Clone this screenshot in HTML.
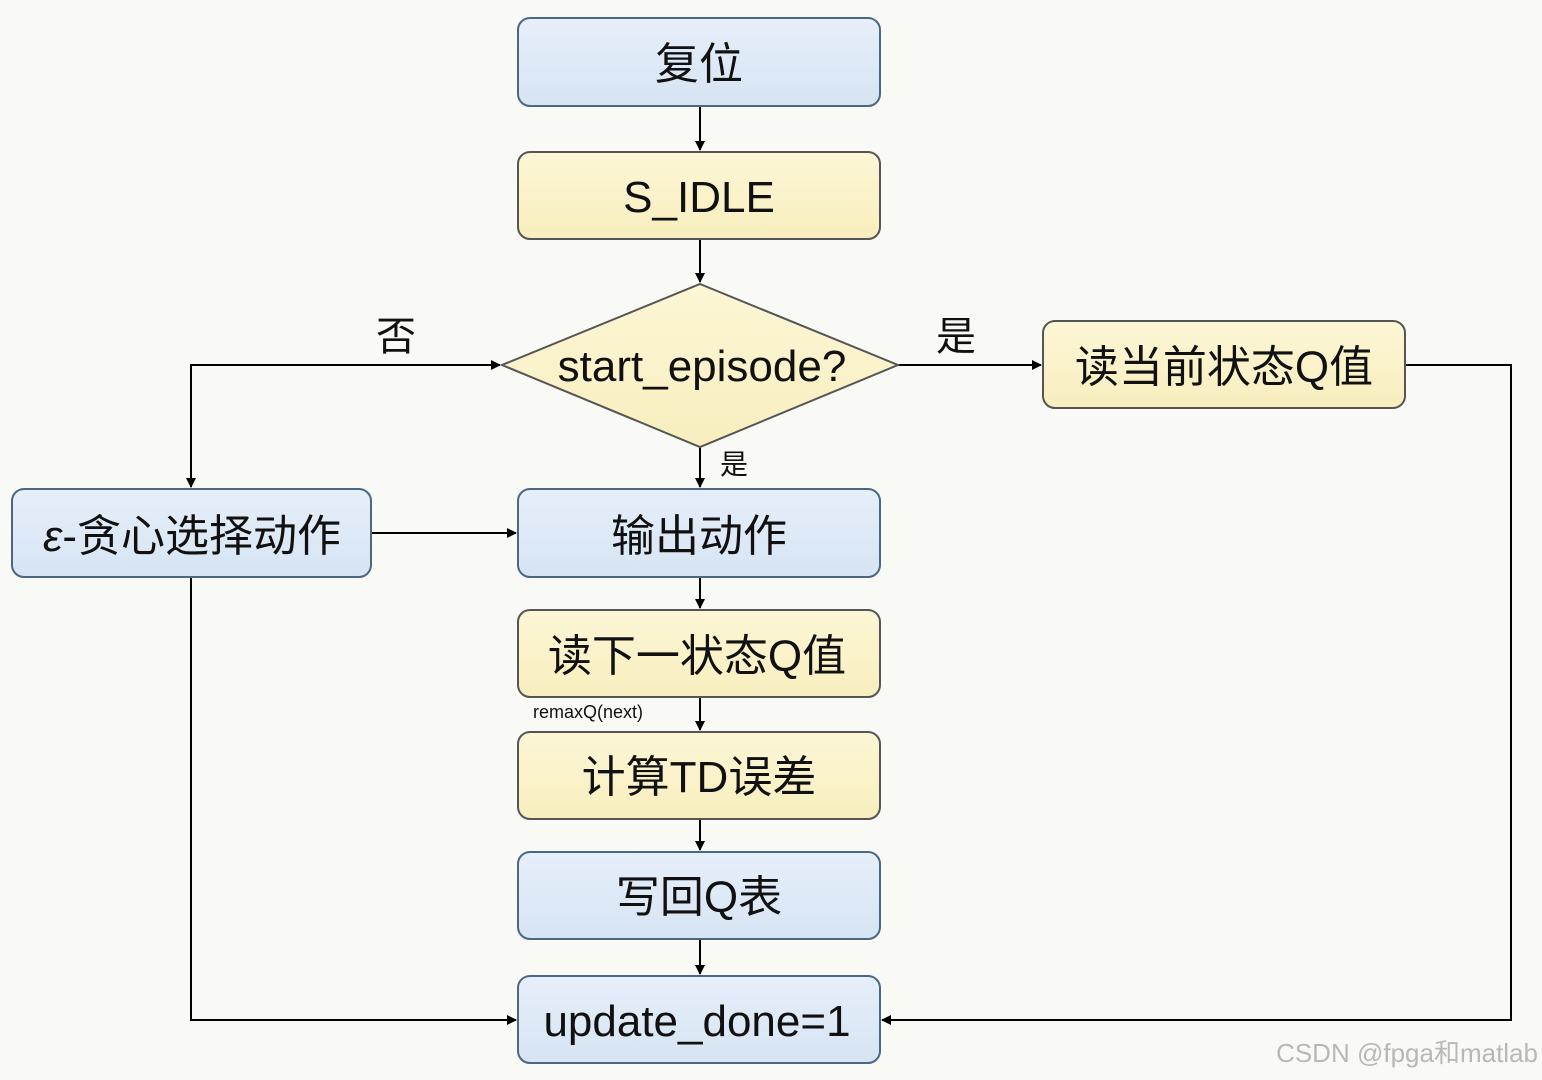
<!DOCTYPE html>
<html><head><meta charset="utf-8"><style>
html,body{margin:0;padding:0;background:#f9f9f6;}
svg{display:block}
text{font-family:"Liberation Sans","Noto Sans CJK SC",sans-serif;fill:#111;}
</style></head><body>
<svg width="1542" height="1080" viewBox="0 0 1542 1080" xmlns="http://www.w3.org/2000/svg">
<defs>
<marker id="a" markerWidth="10" markerHeight="10" refX="9" refY="5" orient="auto" markerUnits="userSpaceOnUse">
<path d="M0,0 L0,0 L10,5 L0,10 Z" fill="#000" transform="scale(1)"/></marker>
<linearGradient id="b" x1="0" y1="0" x2="0" y2="1"><stop offset="0" stop-color="#e6effa"/><stop offset="1" stop-color="#d6e4f3"/></linearGradient>
<linearGradient id="y" x1="0" y1="0" x2="0" y2="1"><stop offset="0" stop-color="#fcf6d6"/><stop offset="1" stop-color="#f8eebe"/></linearGradient>
</defs>
<rect width="1542" height="1080" fill="#f9f9f6"/>
<g stroke="#000" stroke-width="2" fill="none">
<path d="M700 106 V150" marker-end="url(#a)"/>
<path d="M700 239 V282" marker-end="url(#a)"/>
<path d="M700 447 V487" marker-end="url(#a)"/>
<path d="M700 577 V608" marker-end="url(#a)"/>
<path d="M700 697 V730" marker-end="url(#a)"/>
<path d="M700 819 V850" marker-end="url(#a)"/>
<path d="M700 939 V974" marker-end="url(#a)"/>
<path d="M191 487 V365 H500" marker-end="url(#a)"/>
<path d="M191 400 V487" marker-end="url(#a)"/>
<path d="M898 365 H1041" marker-end="url(#a)"/>
<path d="M1405 365 H1511 V1020 H882" marker-end="url(#a)"/>
<path d="M191 577 V1020 H516" marker-end="url(#a)"/>
<path d="M371 533 H516" marker-end="url(#a)"/>
</g>
<g stroke-width="2">
<rect x="518" y="18" width="362" height="88" rx="12" fill="url(#b)" stroke="#4b6784"/>
<rect x="518" y="152" width="362" height="87" rx="12" fill="url(#y)" stroke="#555"/>
<polygon points="700,284 898,365 700,447 502,365" fill="url(#y)" stroke="#555"/>
<rect x="1043" y="321" width="362" height="87" rx="12" fill="url(#y)" stroke="#555"/>
<rect x="12" y="489" width="359" height="88" rx="12" fill="url(#b)" stroke="#4b6784"/>
<rect x="518" y="489" width="362" height="88" rx="12" fill="url(#b)" stroke="#4b6784"/>
<rect x="518" y="610" width="362" height="87" rx="12" fill="url(#y)" stroke="#555"/>
<rect x="518" y="732" width="362" height="87" rx="12" fill="url(#y)" stroke="#555"/>
<rect x="518" y="852" width="362" height="87" rx="12" fill="url(#b)" stroke="#4b6784"/>
<rect x="518" y="976" width="362" height="87" rx="12" fill="url(#b)" stroke="#4b6784"/>
</g>
<g font-size="44" text-anchor="middle">
<text x="699" y="79">复位</text>
<text x="699" y="212">S_IDLE</text>
<text x="702" y="381">start_episode?</text>
<text x="1224" y="382">读当前状态Q值</text>
<text x="192" y="551"><tspan font-style="italic">ε</tspan>-贪心选择动作</text>
<text x="699" y="551">输出动作</text>
<text x="697" y="671">读下一状态Q值</text>
<text x="699" y="792">计算TD误差</text>
<text x="699" y="912">写回Q表</text>
<text x="697" y="1036">update_done=1</text>
</g>
<text x="396" y="350" font-size="40" text-anchor="middle">否</text>
<text x="956" y="350" font-size="40" text-anchor="middle">是</text>
<text x="734" y="474" font-size="28" text-anchor="middle">是</text>
<text x="533" y="718" font-size="18">remaxQ(next)</text>
<text x="1538" y="1062" font-size="26" text-anchor="end" style="fill:#b8b8b8">CSDN @fpga和matlab</text>
</svg>
</body></html>
